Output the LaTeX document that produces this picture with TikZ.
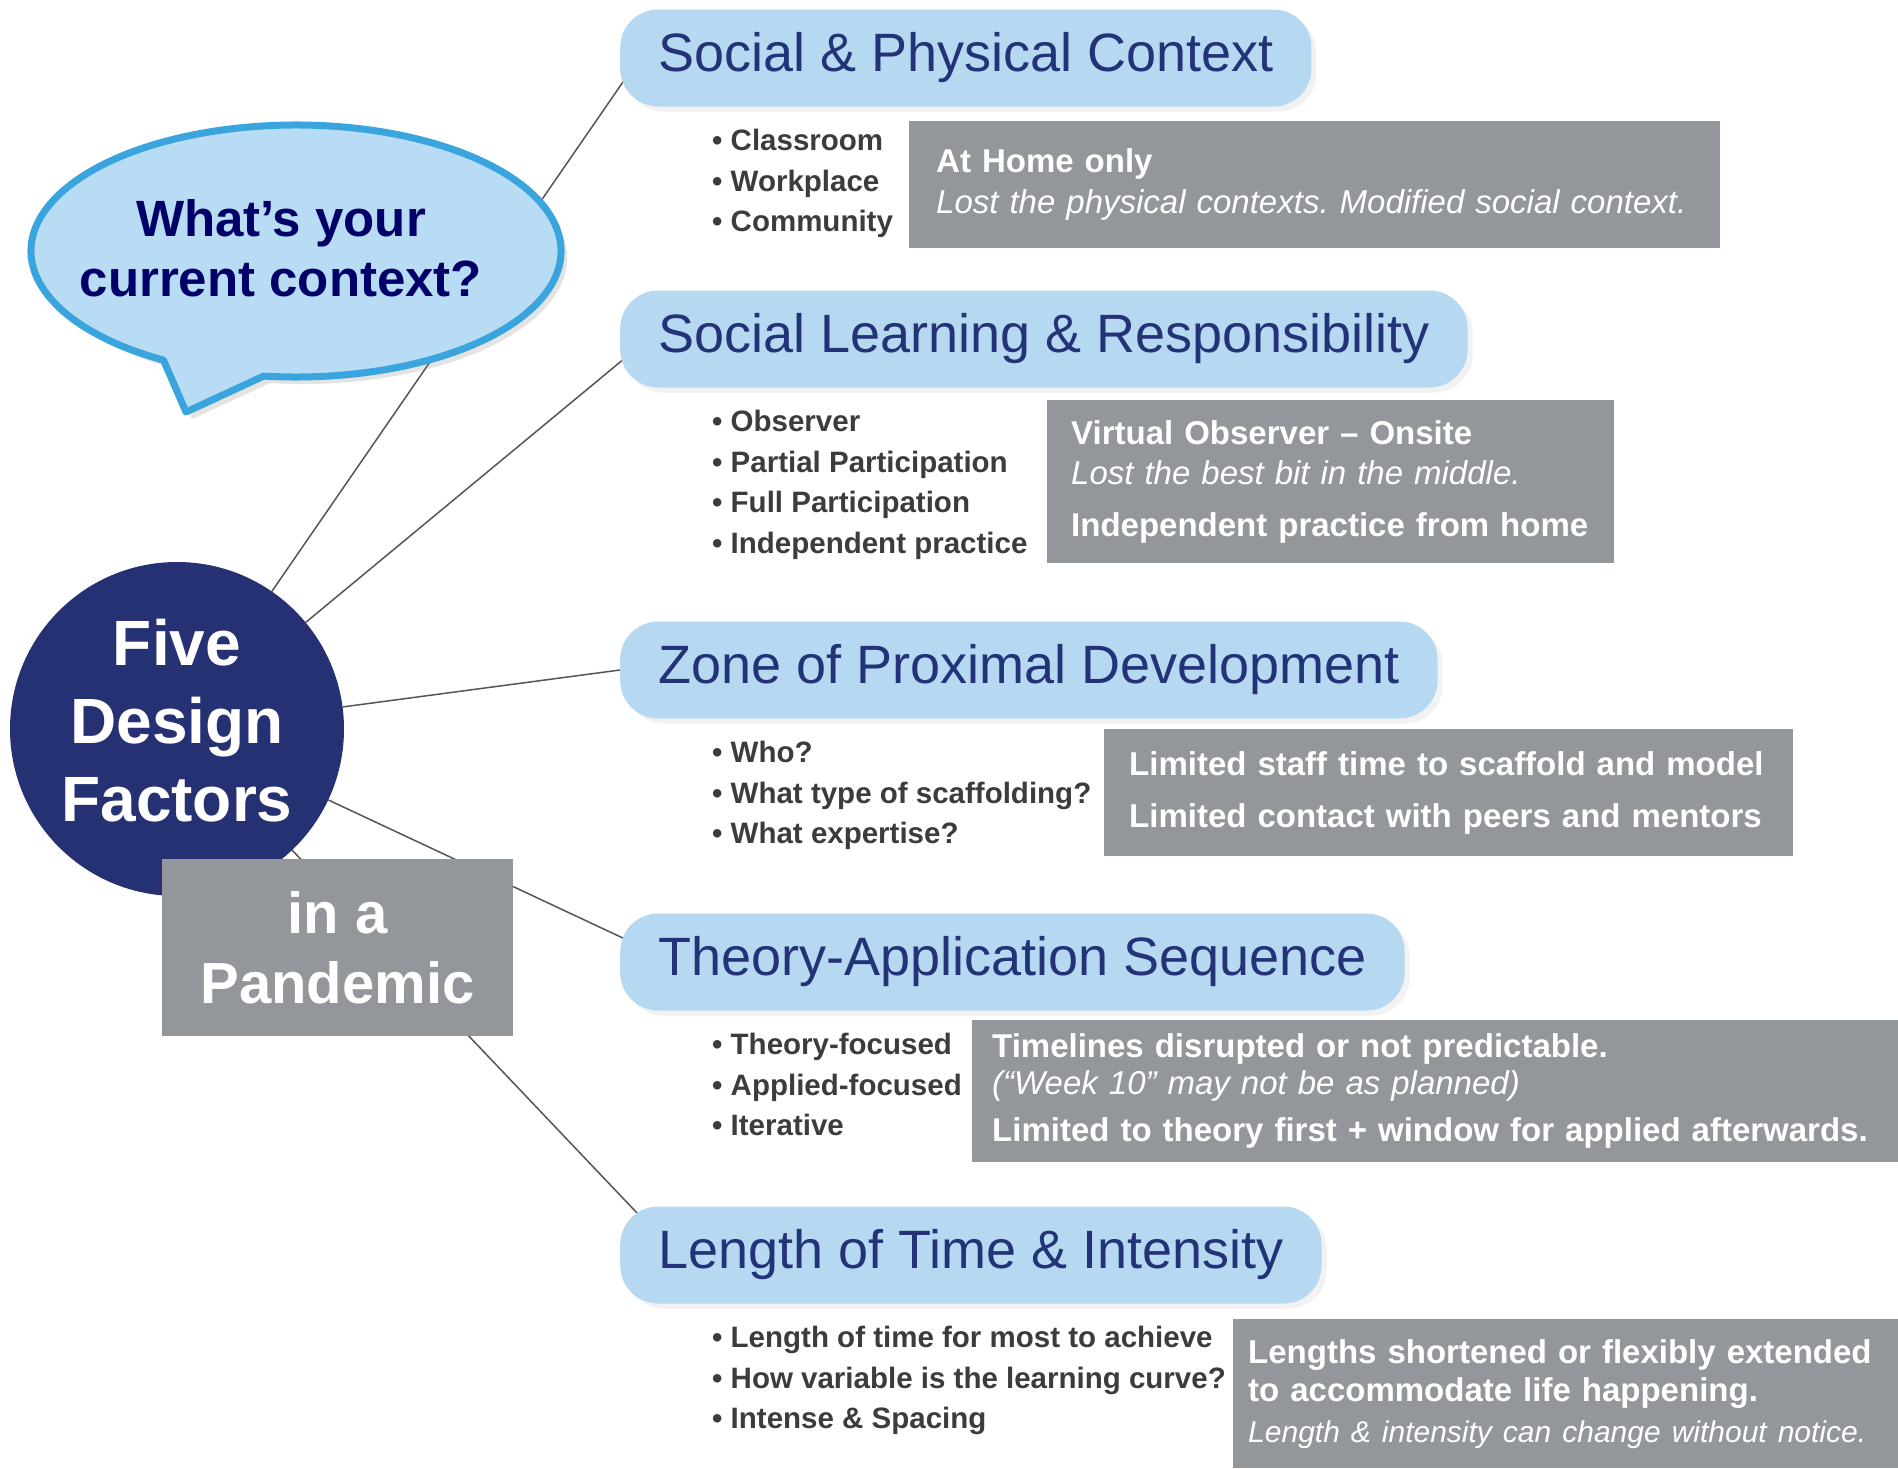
\documentclass[tikz,border=0pt]{standalone}
\usepackage{fontspec}
\setmainfont{Liberation Sans}
\usetikzlibrary{positioning}
\usetikzlibrary{calc}
\usetikzlibrary{shadows}
\usetikzlibrary{backgrounds}
\frenchspacing
\newcommand{\bulletitem}[3][]{\node (#2) [point, #1] {\textbullet\ #3};}
\tikzstyle{head} = [anchor=west, fill=headfill, text=headtext, rounded corners=38pt, minimum height=97pt, inner xsep=38pt, font=\fontsize{54}{60}\selectfont, drop shadow={opacity=0.10, shadow xshift=5pt, shadow yshift=-5pt}]
\tikzstyle{point} = [text=pointgrey, inner sep=0pt, font=\fontsize{29.5}{36}\selectfont\bfseries]
\tikzstyle{note} = [anchor=north west, fill=notegrey, text=white, align=left, font=\fontsize{33}{38}\selectfont\bfseries]
\tikzstyle{link} = [draw=linkgrey, line width=1.5pt]
\tikzstyle{core} = [circle, fill=corenavy, text=white, minimum size=334pt, inner sep=0pt, align=center, font=\fontsize{64}{78}\selectfont\bfseries]
\tikzstyle{pandemic} = [fill=notegrey, text=white, minimum width=351pt, minimum height=177pt, align=center, font=\fontsize{58}{70}\selectfont\bfseries]
\tikzstyle{bubble} = [fill=bubblefill, draw=bubbleedge, line width=7pt, line join=round, drop shadow={opacity=0.22, shadow xshift=6pt, shadow yshift=-7pt}]
\tikzstyle{ask} = [text=asknavy, align=center, font=\fontsize{51}{60}\selectfont\bfseries]
\definecolor{headfill}{RGB}{182,217,241}
\definecolor{headtext}{RGB}{36,50,120}
\definecolor{pointgrey}{RGB}{60,60,62}
\definecolor{notegrey}{RGB}{147,151,155}
\definecolor{linkgrey}{RGB}{85,85,85}
\definecolor{corenavy}{RGB}{37,49,115}
\definecolor{bubblefill}{RGB}{184,220,243}
\definecolor{bubbleedge}{RGB}{58,164,222}
\definecolor{asknavy}{RGB}{0,0,104}

\begin{document}
\begin{tikzpicture}[x=1pt, y=-1pt, node distance=40.5pt]
	\useasboundingbox (0,0) rectangle (1898,1468);

	\node[head] (h1) at (620,58) {Social \& Physical Context};
	\bulletitem[below right=44pt and 92pt of h1.south west, anchor=base west]{cls}{Classroom}
	\bulletitem[below=of cls.base west, anchor=base west]{wrk}{Workplace}
	\bulletitem[below=of wrk.base west, anchor=base west]{com}{Community}
	\node[note, minimum width=811pt, minimum height=127pt, inner xsep=27pt, text width=757pt] (n1) at (909,121)
		{At Home only\\[3pt]{\mdseries\itshape Lost the physical contexts. Modified social context.}};

	\node[head] (h2) at (620,339) {Social Learning \& Responsibility};
	\bulletitem[below right=44pt and 92pt of h2.south west, anchor=base west]{obs}{Observer}
	\bulletitem[below=of obs.base west, anchor=base west]{ppart}{Partial Participation}
	\bulletitem[below=of ppart.base west, anchor=base west]{fpart}{Full Participation}
	\bulletitem[below=of fpart.base west, anchor=base west]{indep}{Independent practice}
	\node[note, minimum width=567pt, minimum height=163pt, inner xsep=24pt, text width=519pt] (n2) at (1047,400)
		{Virtual Observer -- Onsite\\[2pt]{\mdseries\itshape Lost the best bit in the middle.}\\[14pt]Independent practice from home};

	\node[head] (h3) at (620,670) {Zone of Proximal Development};
	\bulletitem[below right=44pt and 92pt of h3.south west, anchor=base west]{who}{Who?}
	\bulletitem[below=of who.base west, anchor=base west]{scaf}{What type of scaffolding?}
	\bulletitem[below=of scaf.base west, anchor=base west]{expt}{What expertise?}
	\node[note, minimum width=689pt, minimum height=127pt, inner xsep=25pt, text width=639pt] (n3) at (1104,729)
		{Limited staff time to scaffold and model\\[14pt]Limited contact with peers and mentors};

	\node[head] (h4) at (620,962) {Theory-Application Sequence};
	\bulletitem[below right=44pt and 92pt of h4.south west, anchor=base west]{thf}{Theory-focused}
	\bulletitem[below=of thf.base west, anchor=base west]{apf}{Applied-focused}
	\bulletitem[below=of apf.base west, anchor=base west]{itr}{Iterative}
	\node[note, minimum width=926pt, minimum height=142pt, inner xsep=20pt, text width=886pt] (n4) at (972,1020)
		{Timelines disrupted or not predictable.\\[-1pt]{\mdseries\itshape (``Week 10'' may not be as planned)}\\[9pt]Limited to theory first + window for applied afterwards.};

	\node[head] (h5) at (620,1255) {Length of Time \& Intensity};
	\bulletitem[below right=44pt and 92pt of h5.south west, anchor=base west]{lot}{Length of time for most to achieve}
	\bulletitem[below=of lot.base west, anchor=base west]{curve}{How variable is the learning curve?}
	\bulletitem[below=of curve.base west, anchor=base west]{spc}{Intense \& Spacing}
	\node[note, minimum width=665pt, minimum height=149pt, inner xsep=15pt, text width=635pt] (n5) at (1233,1319)
		{Lengths shortened or flexibly extended\\to accommodate life happening.\\[3pt]{\mdseries\itshape\fontsize{30}{38}\selectfont Length \& intensity can change without notice.}};

	\node[core, text depth=18pt] (fdf) at (177,729) {Five\\Design\\Factors};
	\node[pandemic] (pan) at (337.5,947.5) {in a\\Pandemic};

	\coordinate (bub) at (296,251);
	\coordinate (tip) at (186,412);
	\draw[bubble] (bub) ++(120:265 and 126) arc[start angle=120, end angle=457, x radius=265, y radius=126] -- (tip) -- cycle;
	\node[ask] (ask) at (281,248) {What’s your\\current context?};

	\begin{pgfonlayer}{background}
		\fill[white] (0,0) rectangle (1898,1468);
		\draw[link] (fdf) -- ($(h1.west)+(5,21)$);
		\draw[link] (fdf) -- ($(h2.west)+(5,19)$);
		\draw[link] (fdf) -- (h3.west);
		\draw[link] (fdf) -- ($(h4.west)+(5,-23)$);
		\draw[link] (fdf) -- ($(h5.west)+(18,-41)$);
	\end{pgfonlayer}
\end{tikzpicture}
\end{document}
